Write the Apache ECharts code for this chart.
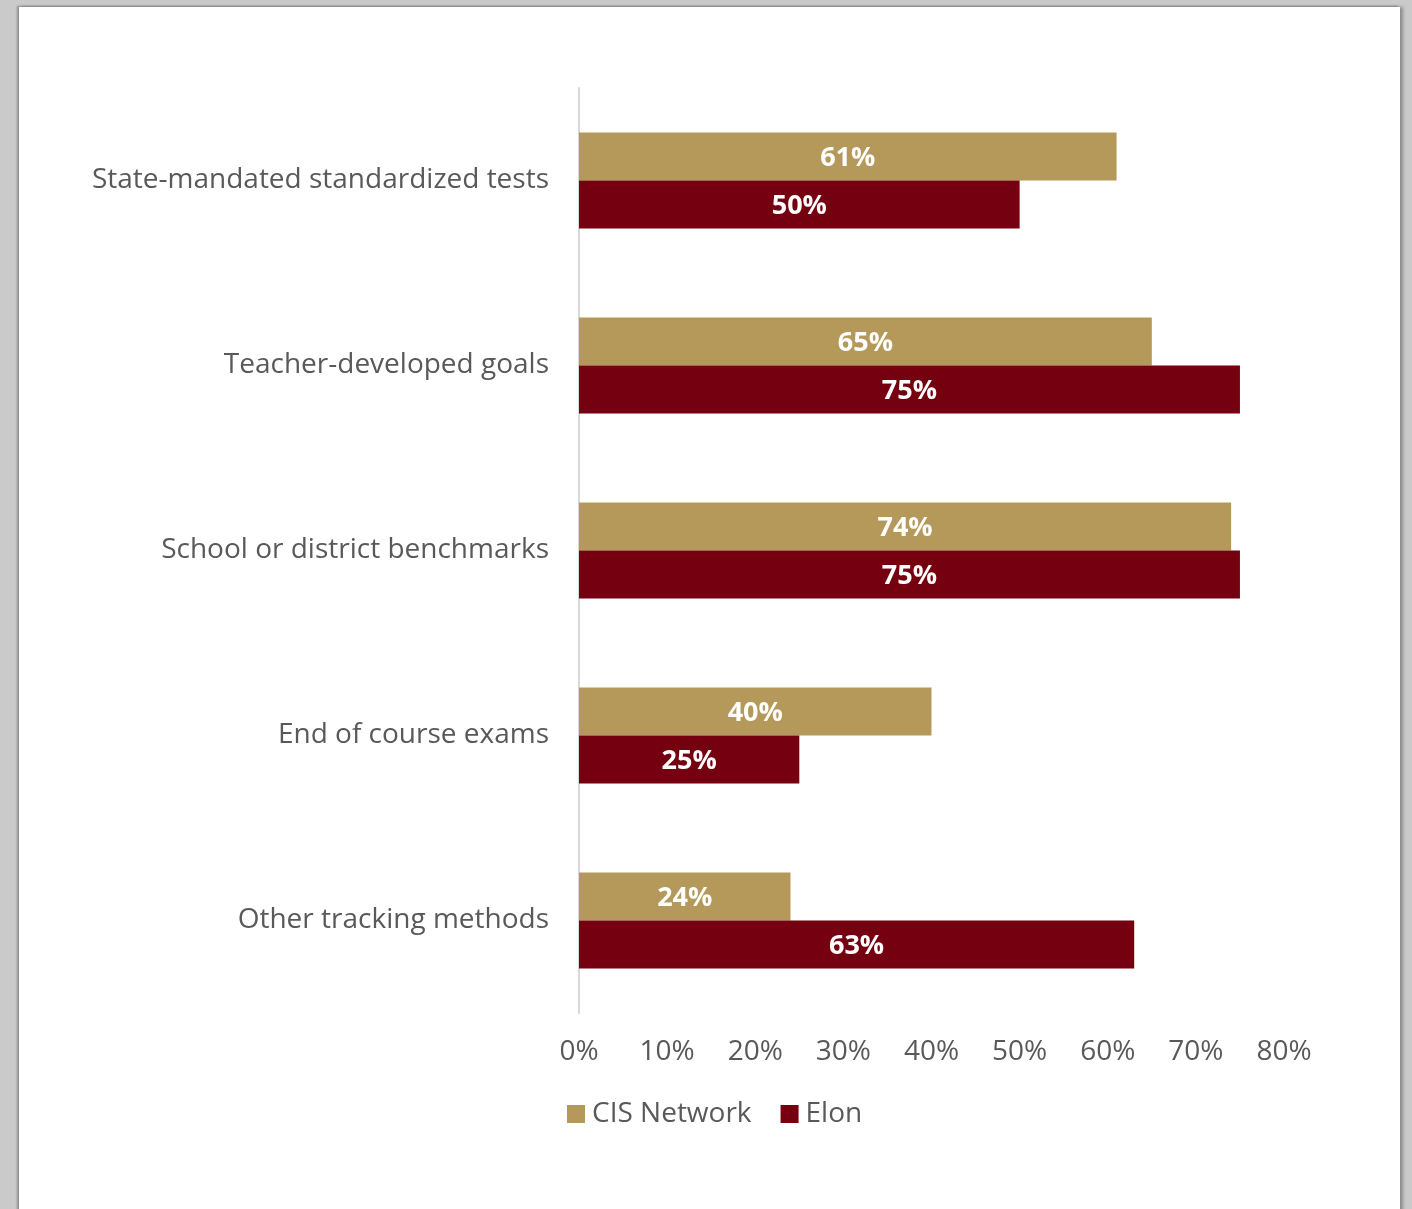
<!DOCTYPE html>
<html>
<head>
<meta charset="utf-8">
<script src="https://cdn.jsdelivr.net/npm/echarts@6/dist/echarts.min.js"></script>
<style>
  html, body { margin: 0; padding: 0; background: #c9cac9; width: 1412px; height: 1209px; overflow: hidden; }
  #card { position: absolute; left: 19px; top: 7px; width: 1381px; height: 1230px; background: #ffffff;
          box-shadow: -2px -1px 2px rgba(0,0,0,0.3), 3px 0 3px rgba(0,0,0,0.3); }
  #chart { position: absolute; left: 0; top: 0; width: 1412px; height: 1209px; }
</style>
</head>
<body>
<div id="card"></div>
<div id="chart"></div>
<script>
// Assessment methods, top to bottom
const categories = [
  'State-mandated standardized tests',
  'Teacher-developed goals',
  'School or district benchmarks',
  'End of course exams',
  'Other tracking methods'
];
const cisNetwork = [61, 65, 74, 40, 24];
const elon = [50, 75, 75, 25, 63];
const tickLabels = ['0%', '10%', '20%', '30%', '40%', '50%', '60%', '70%', '80%'];

const FONT = '"Open Sans", "Noto Sans", sans-serif';
const chart = echarts.init(document.getElementById('chart'), null, { renderer: 'canvas' });

const valueLabel = {
  show: true,
  position: 'inside',
  offset: [0, 2],
  color: '#ffffff',
  fontFamily: FONT,
  fontWeight: 'bold',
  fontSize: 27,
  formatter: p => p.value + '%'
};

chart.setOption({
  backgroundColor: 'transparent',
  animation: false,
  grid: { left: 579, right: 128, top: 88, bottom: 196, containLabel: false },
  legend: {
    left: 562,
    top: 1095,
    itemWidth: 18,
    itemHeight: 18,
    itemGap: 29,
    icon: 'rect',
    textStyle: { color: '#595959', fontFamily: FONT, fontSize: 28, padding: [0, 0, 0, 2] },
    data: ['CIS Network', 'Elon']
  },
  xAxis: {
    type: 'value',
    min: 0,
    max: 80,
    interval: 10,
    splitLine: { show: false },
    axisLine: { show: false },
    axisTick: { show: false },
    axisLabel: {
      margin: 25,
      color: '#595959',
      fontFamily: FONT,
      fontSize: 28,
      formatter: v => tickLabels[Math.round(v / 10)]
    }
  },
  yAxis: {
    type: 'category',
    inverse: true,
    data: categories,
    axisLine: { show: true, lineStyle: { color: '#d9d9d9', width: 2 } },
    axisTick: { show: false },
    axisLabel: {
      margin: 30,
      color: '#595959',
      fontFamily: FONT,
      fontSize: 28,
      padding: [0, 0, 4, 0]
    }
  },
  series: [
    {
      name: 'CIS Network',
      type: 'bar',
      data: cisNetwork,
      barWidth: 48,
      barGap: '0%',
      itemStyle: { color: '#b5995a' },
      label: valueLabel
    },
    {
      name: 'Elon',
      type: 'bar',
      data: elon,
      barWidth: 48,
      barGap: '0%',
      itemStyle: { color: '#75000f' },
      label: valueLabel
    }
  ]
});
</script>
</body>
</html>
